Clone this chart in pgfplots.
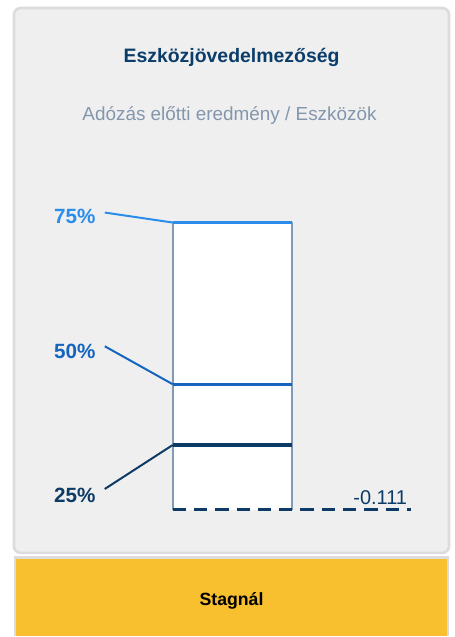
\documentclass[border=0pt]{standalone}
\usepackage{pgfplots}
\pgfplotsset{compat=1.18}
\usepackage{fontspec}
\setmainfont{Liberation Sans}
\definecolor{cardbg}{HTML}{EFEFEF}
\definecolor{cardborder}{HTML}{DCDCDC}
\definecolor{titlec}{HTML}{0B3D6B}
\definecolor{subc}{HTML}{8496AD}
\definecolor{yel}{HTML}{F8BF2E}
\definecolor{qa}{HTML}{2A8CEB}
\definecolor{qb}{HTML}{1565C0}
\definecolor{qc}{HTML}{0D3B66}
\definecolor{boxside}{HTML}{7F9BB5}
\begin{document}
\begin{tikzpicture}
\begin{axis}[width=341.25pt,height=477.75pt,scale only axis,
  xmin=0,xmax=455,ymin=-0.363,ymax=0.911,axis lines=none,clip=false]
% full canvas (sets the bounding box)
\fill[white] (rel axis cs:0,0) rectangle (rel axis cs:1,1);
% card
\draw[draw=cardborder,line width=2pt,fill=cardbg,rounded corners=5pt]
  (rel axis cs:0.0308,0.9874) rectangle (rel axis cs:0.9890,0.1303);
% yellow status box
\fill[yel] (rel axis cs:0.0330,0) rectangle (rel axis cs:0.9868,0.1225);
\draw[cardborder,line width=2pt] (rel axis cs:0.0330,0) -- (rel axis cs:0.0330,0.1225) -- (rel axis cs:0.9868,0.1225) -- (rel axis cs:0.9868,0);
% texts
\node[text=titlec,font=\bfseries\fontsize{14.6}{17}\selectfont] at (rel axis cs:0.5099,0.9090) {Eszközjövedelmezőség};
\node[text=subc,font=\fontsize{14.2}{17}\selectfont] at (rel axis cs:0.5055,0.8179) {Adózás előtti eredmény / Eszközök};
\node[text=black,font=\bfseries\fontsize{13.3}{16}\selectfont] at (rel axis cs:0.5099,0.0550) {Stagnál};
% box
\addplot[fill=white,draw=boxside,line width=1.5pt] coordinates {(173,-0.111) (173,0.465) (293,0.465) (293,-0.111)};
% quantile lines
\addplot[qa,line width=2.4pt] coordinates {(173,0.465) (293,0.465)};
\addplot[qb,line width=2.4pt] coordinates {(173,0.141) (293,0.141)};
\addplot[qc,line width=2.4pt] coordinates {(173,0.019) (293,0.019)};
% leaders
\addplot[qa,line width=1.5pt] coordinates {(105,0.485) (173,0.465)};
\addplot[qb,line width=1.5pt] coordinates {(105,0.217) (173,0.141)};
\addplot[qc,line width=1.5pt] coordinates {(105,-0.069) (173,0.019)};
% value line
\addplot[qc,line width=2.2pt,dash pattern=on 10pt off 6pt] coordinates {(173,-0.111) (412,-0.111)};
% labels
\node[text=qa,font=\bfseries\fontsize{15.5}{18}\selectfont] at (axis cs:75,0.477) {75\%};
\node[text=qb,font=\bfseries\fontsize{15.5}{18}\selectfont] at (axis cs:75,0.207) {50\%};
\node[text=qc,font=\bfseries\fontsize{15.5}{18}\selectfont] at (axis cs:75,-0.081) {25\%};
\node[anchor=base,text=qc,inner sep=0pt,font=\fontsize{15}{18}\selectfont] at (axis cs:381,-0.101) {-0.111};
\end{axis}
\end{tikzpicture}
\end{document}
